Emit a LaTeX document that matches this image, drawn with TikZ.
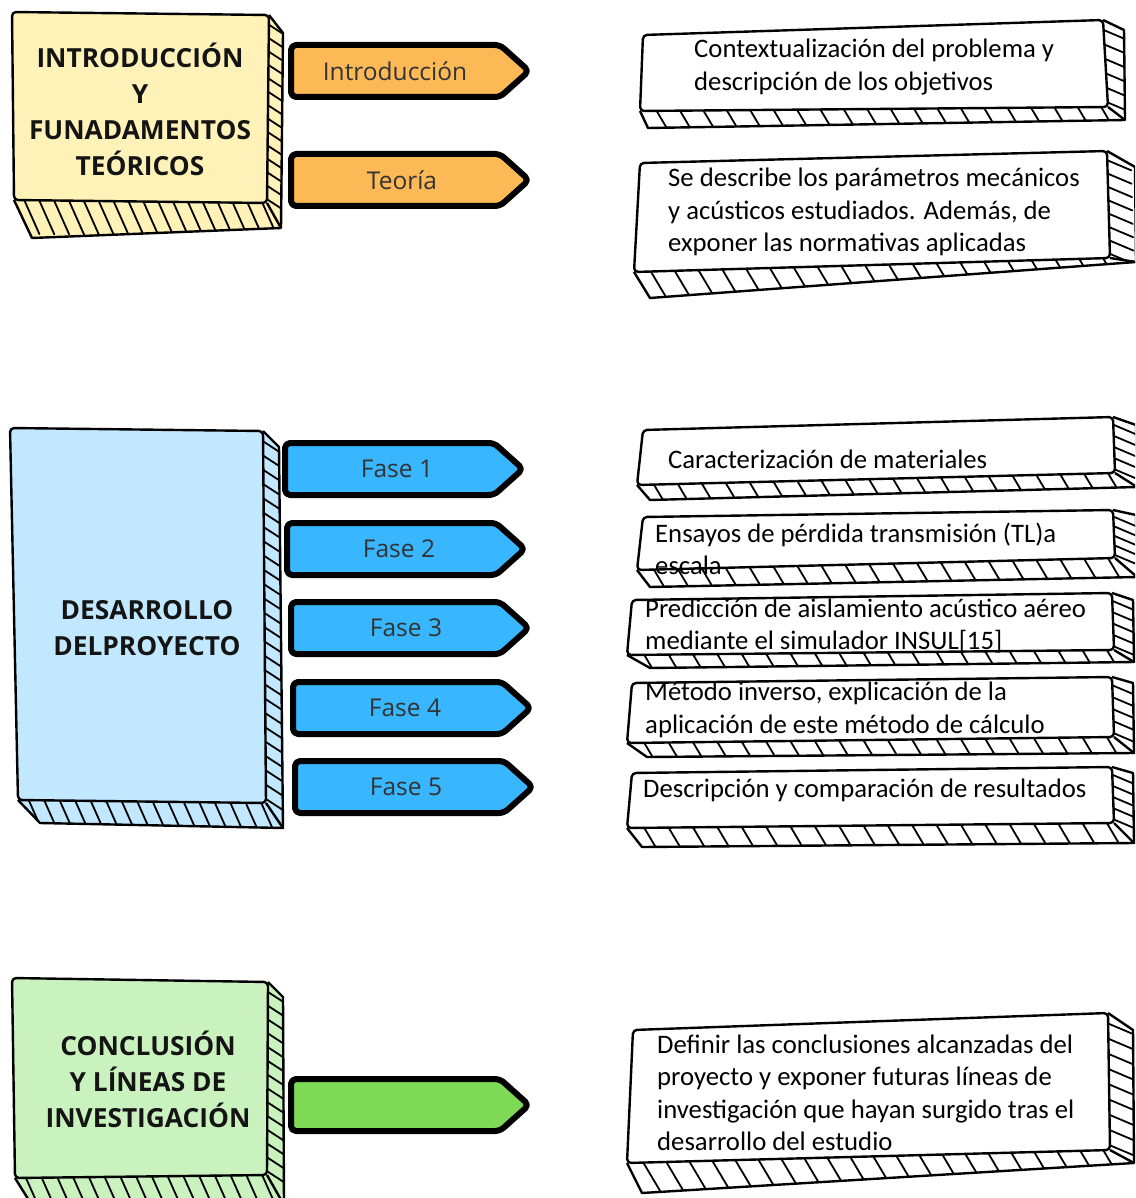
\documentclass[tikz,border=0pt]{standalone}
\usepackage{fontspec}
\setmainfont{Carlito}
\newfontfamily\osans{Open Sans}
\usetikzlibrary{calc}
\definecolor{yel}{HTML}{FFF2B8}
\definecolor{lblue}{HTML}{C2E8FF}
\definecolor{lgreen}{HTML}{C9F2BF}
\definecolor{orng}{HTML}{FDB955}
\definecolor{blu}{HTML}{38B6FF}
\definecolor{grn}{HTML}{7ED957}
\tikzset{
  boxline/.style={draw=black, line width=2.4pt, line join=round},
  hatch/.style={draw=black, line width=1.8pt, line cap=round},
  tagline/.style={draw=black, line width=6pt, line join=round, rounded corners=5pt},
  taglabel/.style={inner sep=0pt, text=black!80, font=\osans\fontsize{24.5}{28}\selectfont},
  titlelabel/.style={inner sep=0pt, align=center, text=black!92, font=\osans\bfseries\fontsize{26.3}{36}\selectfont},
  desclabel/.style={inner sep=0pt, align=left, anchor=west, text=black, font=\fontsize{26.7}{32.5}\selectfont},
}
% #1 name, #2 TL, #3 TR, #4 BR, #5 BL, #6 side top back, #7 back bottom right, #8 back bottom left, #9 fill
% hatch counts \nside, \nbot ; hatch vectors (\svx,\svy), (\bvx,\bvy)
\newcommand\sketchbox[9]{%
  \coordinate (#1-a) at #2; \coordinate (#1-b) at #3; \coordinate (#1-c) at #4; \coordinate (#1-d) at #5;
  \coordinate (#1-b2) at #6; \coordinate (#1-c2) at #7; \coordinate (#1-d2) at #8;
  \path[fill=#9] (#1-b)--(#1-b2)--(#1-c2)--(#1-c)--cycle;
  \path[fill=#9] (#1-d)--(#1-c)--(#1-c2)--(#1-d2)--cycle;
  \begin{scope}
    \clip (#1-b)--(#1-b2)--(#1-c2)--(#1-c)--cycle;
    \foreach \i in {1,...,\nside}{%
      \pgfmathsetmacro\tt{(\i-0.3)/\nside}
      \draw[hatch] ($(#1-b)!\tt!(#1-c)+(-2,-1)$) -- ++(\svx,\svy);}
  \end{scope}
  \begin{scope}
    \clip (#1-d)--(#1-c)--(#1-c2)--(#1-d2)--cycle;
    \foreach \i in {1,...,\nbot}{%
      \pgfmathsetmacro\tt{(\i-0.3)/\nbot}
      \draw[hatch] ($(#1-d)!\tt!(#1-c)+(-1,-2)$) -- ++(\bvx,\bvy);}
  \end{scope}
  \draw[boxline] (#1-b)--(#1-b2)--(#1-c2)--(#1-d2)--(#1-d);
  \draw[boxline] (#1-c)--(#1-c2);
  \filldraw[boxline, fill=#9, rounded corners=4pt] (#1-a)--(#1-b)--(#1-c)--(#1-d)--cycle;
}
% #1 name, #2 left x, #3 mid y, #4 fill, #5 text x, #6 label
\newcommand\sigtag[6]{%
  \draw[tagline, fill=#4] (#2,#3-26) -- (#2+209,#3-26) -- (#2+238,#3) -- (#2+209,#3+26) -- (#2,#3+26) -- cycle;
  \node[taglabel] (#1) at (#5,#3) {#6};
}
\begin{document}
\begin{tikzpicture}[x=1pt, y=-1pt]
\useasboundingbox (0,0) rectangle (1135,1198);
\clip (0,0) rectangle (1135,1198);
\fill[white] (0,0) rectangle (1135,1198);

% ---- left boxes
\def\svx{20}\def\svy{13}\def\bvx{16}\def\bvy{36}
\def\nside{14}\def\nbot{17}
\sketchbox{yb}{(12,12)}{(269,15)}{(267,203)}{(14,200)}{(283,33)}{(281,228)}{(32,238)}{yel}
\node[titlelabel] (ytitle) at (140,109) {INTRODUCCIÓN\\Y\\FUNADAMENTOS\\TEÓRICOS};

\def\nside{26}\def\nbot{16}
\sketchbox{bb}{(10,428)}{(263,431)}{(266,803)}{(18,800)}{(279,447)}{(283,828)}{(40,823)}{lblue}
\node[titlelabel] (btitle) at (147,628) {DESARROLLO\\DELPROYECTO};

\def\nside{14}\def\nbot{16}
\sketchbox{gb}{(12,978)}{(268,982)}{(267,1175)}{(15,1178)}{(283,997)}{(284,1205)}{(35,1210)}{lgreen}
\node[titlelabel] (gtitle) at (148,1079) {CONCLUSIÓN\\Y LÍNEAS DE\\INVESTIGACIÓN};

% ---- tags
\sigtag{tintro}{291}{71}{orng}{395}{Introducción}
\sigtag{tteo}{291}{180}{orng}{402}{Teoría}
\sigtag{tf1}{285}{469}{blu}{397}{Fase 1}
\sigtag{tf2}{287}{549}{blu}{399}{Fase 2}
\sigtag{tf3}{291}{628}{blu}{406}{Fase 3}
\sigtag{tf4}{293}{708}{blu}{405}{Fase 4}
\sigtag{tf5}{295}{787}{blu}{406}{Fase 5}
\sigtag{tg}{291}{1105}{grn}{410}{}

% ---- right boxes
\def\svx{26}\def\svy{11}\def\bvx{19}\def\bvy{32}
\def\nside{6}\def\nbot{20}
\sketchbox{r1}{(643,35)}{(1103,20)}{(1108,107)}{(640,111)}{(1124,30)}{(1125,120)}{(648,128)}{white}
\node[desclabel] (r1t) at (694,67) {Contextualización del problema y\\descripción de los objetivos};

\def\nside{8}\def\nbot{20}
\sketchbox{r2}{(640,163)}{(1107,151)}{(1110,258)}{(634,272)}{(1135,167)}{(1136,262)}{(650,298)}{white}
\node[desclabel] (r2t) at (668,212) {Se describe los parámetros mecánicos\\y acústicos estudiados. Además, de\\exponer las normativas aplicadas};

\def\nside{5}\def\nbot{20}
\sketchbox{r3}{(643,430)}{(1113,417)}{(1115,473)}{(637,485)}{(1136,425)}{(1137,487)}{(650,500)}{white}
\node[desclabel] (r3t) at (668,459) {Caracterización de materiales};

\sketchbox{r4}{(643,517)}{(1113,510)}{(1115,558)}{(637,570)}{(1136,515)}{(1137,577)}{(650,587)}{white}
\sketchbox{r5}{(632,600)}{(1112,593)}{(1114,650)}{(627,655)}{(1133,600)}{(1134,662)}{(650,668)}{white}
\sketchbox{r6}{(632,683)}{(1112,677)}{(1114,737)}{(627,743)}{(1133,683)}{(1134,753)}{(647,757)}{white}
\sketchbox{r7}{(632,773)}{(1112,767)}{(1114,823)}{(627,828)}{(1133,773)}{(1134,843)}{(642,847)}{white}
\node[desclabel] (r4t) at (655,549) {Ensayos de pérdida transmisión (TL)a\\escala};
\node[desclabel] (r5t) at (645,626) {Predicción de aislamiento acústico aéreo\\mediante el simulador INSUL[15]};
\node[desclabel] (r6t) at (645,710) {Método inverso, explicación de la\\aplicación de este método de cálculo};
\node[desclabel] (r7t) at (643,790) {Descripción y comparación de resultados};

\def\nside{9}\def\nbot{21}
\sketchbox{r8}{(633,1030)}{(1108,1013)}{(1110,1150)}{(627,1163)}{(1133,1030)}{(1134,1163)}{(642,1193)}{white}
\node[desclabel] (r8t) at (657,1093) {Definir las conclusiones alcanzadas del\\proyecto y exponer futuras líneas de\\investigación que hayan surgido tras el\\desarrollo del estudio};
\end{tikzpicture}
\end{document}
